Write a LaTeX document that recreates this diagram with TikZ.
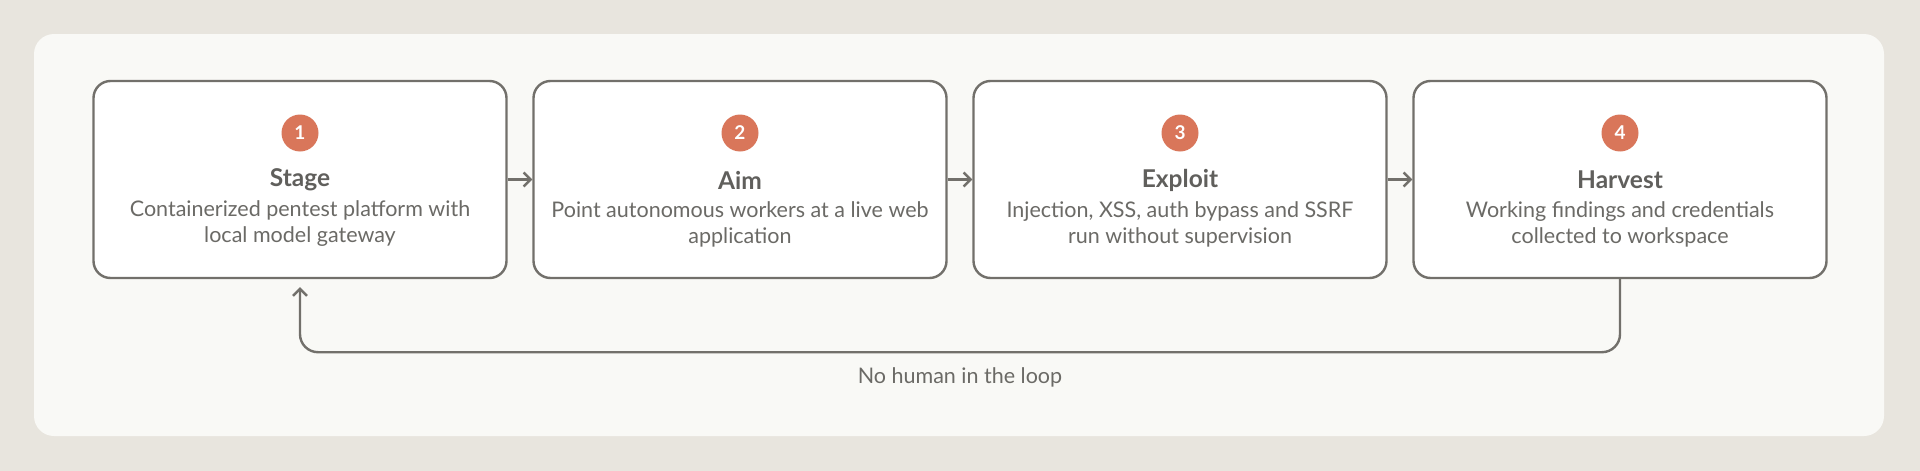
\documentclass[tikz,border=0pt]{standalone}
\usepackage{fontspec}
\setmainfont{Lato}
\usepackage{tikz}
\usetikzlibrary{positioning,arrows.meta}
\definecolor{bgcolor}{HTML}{E8E5DE}
\definecolor{panelcolor}{HTML}{F9F9F6}
\definecolor{linecolor}{HTML}{72706B}
\definecolor{textcolor}{HTML}{6B6A66}
\definecolor{badgecolor}{HTML}{D9765A}

\begin{document}
\begin{tikzpicture}[x=1pt,y=-1pt,
        stagebox/.style = {draw=linecolor, line width=2.4pt, rounded corners=17pt, fill=white, minimum width=413pt, minimum height=197pt},
]
\tikzstyle{badge}=[circle, minimum size=37pt, inner sep=0pt, fill=badgecolor, text=white, font=\fontsize{19}{19}\selectfont\bfseries]
\tikzstyle{title}=[text=textcolor!90!black, font=\fontsize{24.5}{24.5}\selectfont\bfseries]
\tikzstyle{desc}=[text=textcolor, align=center, font=\fontsize{21.5}{26}\selectfont]
\tikzstyle{connect}=[-{Straight Barb[length=7pt,width=14pt]}, draw=linecolor, line width=2.4pt]

	\useasboundingbox (0,0) rectangle (1920,471);
	\fill[bgcolor] (0,0) rectangle (1920,471);
	\fill[panelcolor, rounded corners=20pt] (34,34) rectangle (1884,436);

	\pgfmathsetmacro{\posv}{179.5};

	\node[stagebox] (st1) at (300,\posv) {};
	\node[badge] (b1) at (300,133) {1};
	\node[title] (t1) at (300,180) {Stage};
	\node[desc] (d1) at (300,224) {Containerized pentest platform with\\local model gateway};

	\node[stagebox] (st2) at (740,\posv) {};
	\node[badge] (b2) at (740,133) {2};
	\node[title] (t2) at (740,180) {Aim};
	\node[desc] (d2) at (740,224) {Point autonomous workers at a live web\\application};

	\node[stagebox] (st3) at (1180,\posv) {};
	\node[badge] (b3) at (1180,133) {3};
	\node[title] (t3) at (1180,180) {Exploit};
	\node[desc] (d3) at (1180,224) {Injection, XSS, auth bypass and SSRF\\run without supervision};

	\node[stagebox] (st4) at (1620,\posv) {};
	\node[badge] (b4) at (1620,133) {4};
	\node[title] (t4) at (1620,180) {Harvest};
	\node[desc] (d4) at (1620,224) {Working findings and credentials\\collected to workspace};

	\node[desc] (loop) at (960,377) {No human in the loop};

	\draw[connect] (st1) -- (st2);
	\draw[connect] (st2) -- (st3);
	\draw[connect] (st3) -- (st4);
	\draw[connect, rounded corners=18pt, shorten >=8pt] (st4.south) -- ++(0,73) -| (st1.south);

\end{tikzpicture}
\end{document}
